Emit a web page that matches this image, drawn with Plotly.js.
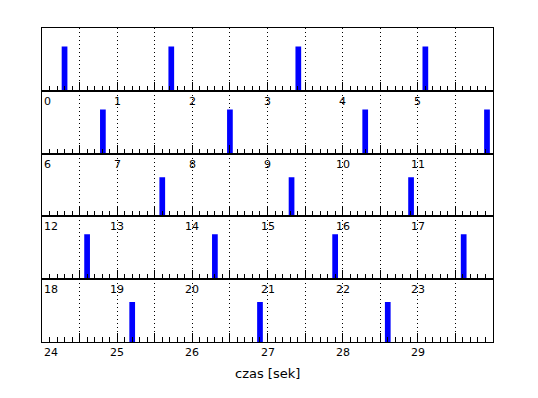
<!DOCTYPE html>
<html>
<head>
<meta charset="utf-8">
<script src="https://cdn.plot.ly/plotly-3.0.1.min.js"></script>
<style>html,body{margin:0;padding:0;background:#fff;}#chart{width:538px;height:398px;}</style>
</head>
<body>
<div id="chart"></div>
<script>
// Beat times (seconds) and amplitudes
const beatTimes = [0.30, 1.72, 3.41, 5.10, 6.81, 8.50, 10.30, 11.92, 13.60, 15.32, 16.91, 18.60, 20.30, 21.90, 23.61, 25.20, 26.90, 28.60];
const beatAmps  = [0.99, 0.99, 0.99, 0.99, 0.985, 0.985, 0.985, 0.985, 0.87, 0.87, 0.87, 1.0, 1.0, 1.0, 1.0, 0.89, 0.89, 0.89];
const rowStarts = [0, 6, 12, 18, 24];
const rowLength = 6;
const tickValues = [0,1,2,3,4,5,6,7,8,9,10,11,12,13,14,15,16,17,18,19,20,21,22,23,24,25,26,27,28,29];
const tickLabels = ['0','1','2','3','4','5','6','7','8','9','10','11','12','13','14','15','16','17','18','19','20','21','22','23','24','25','26','27','28','29'];
const xTitle = 'czas [sek]';

const nRows = rowStarts.length;
const traces = [];
const layout = {
  width: 538, height: 398,
  margin: {l: 42, r: 45, t: 28, b: 56},
  paper_bgcolor: '#ffffff', plot_bgcolor: '#ffffff',
  showlegend: false,
  font: {family: 'DejaVu Sans', size: 11, color: '#000'},
  annotations: []
};

rowStarts.forEach((s, k) => {
  const xs = [], ys = [];
  beatTimes.forEach((t, i) => { if (t >= s && t < s + rowLength) { xs.push(t); ys.push(beatAmps[i]); } });
  const ax = k === 0 ? '' : String(k + 1);
  traces.push({
    type: 'bar', x: xs, y: ys, width: 0.076,
    marker: {color: '#0000ff', line: {width: 0}},
    xaxis: 'x' + ax, yaxis: 'y' + ax, hoverinfo: 'skip'
  });
  const top = (nRows - k) / nRows, bot = (nRows - k - 1) / nRows;
  layout['xaxis' + ax] = {
    domain: [0, 1], anchor: 'y' + ax, range: [s, s + rowLength],
    tickmode: 'linear', tick0: s, dtick: 0.5,
    ticks: 'inside', ticklen: 9, tickcolor: '#000', tickwidth: 1,
    showticklabels: false,
    showgrid: true, gridcolor: '#000', gridwidth: 1, griddash: '1px,3px',
    minor: {dtick: 0.1, tick0: s, ticks: 'inside', ticklen: 5, tickcolor: '#000', tickwidth: 1, showgrid: false},
    showline: true, mirror: true, linecolor: '#000', linewidth: 1,
    zeroline: false, fixedrange: true
  };
  layout['yaxis' + ax] = {
    domain: [bot, top], anchor: 'x' + ax, range: [0, 1.4],
    showticklabels: false, ticks: '', showgrid: false, zeroline: false,
    showline: true, mirror: true, linecolor: '#000', linewidth: 1, fixedrange: true
  };
  tickValues.forEach((v, i) => {
    if (v >= s && v < s + rowLength) {
      layout.annotations.push({
        text: tickLabels[i], x: v, xref: 'x' + ax, y: 0, yref: 'y' + ax + ' domain',
        xanchor: v === s ? 'left' : 'center', yanchor: 'top',
        showarrow: false, xshift: v === s ? 0 : 0, yshift: -2,
        font: {family: 'DejaVu Sans', size: 11, color: '#000'}
      });
    }
  });
});

layout.annotations.push({
  text: xTitle, x: 0.5, xref: 'paper', y: 0, yref: 'paper',
  xanchor: 'center', yanchor: 'top', yshift: -22, showarrow: false,
  font: {family: 'DejaVu Sans', size: 13, color: '#000'}
});

Plotly.newPlot('chart', traces, layout, {staticPlot: true, displayModeBar: false});
</script>
</body>
</html>
